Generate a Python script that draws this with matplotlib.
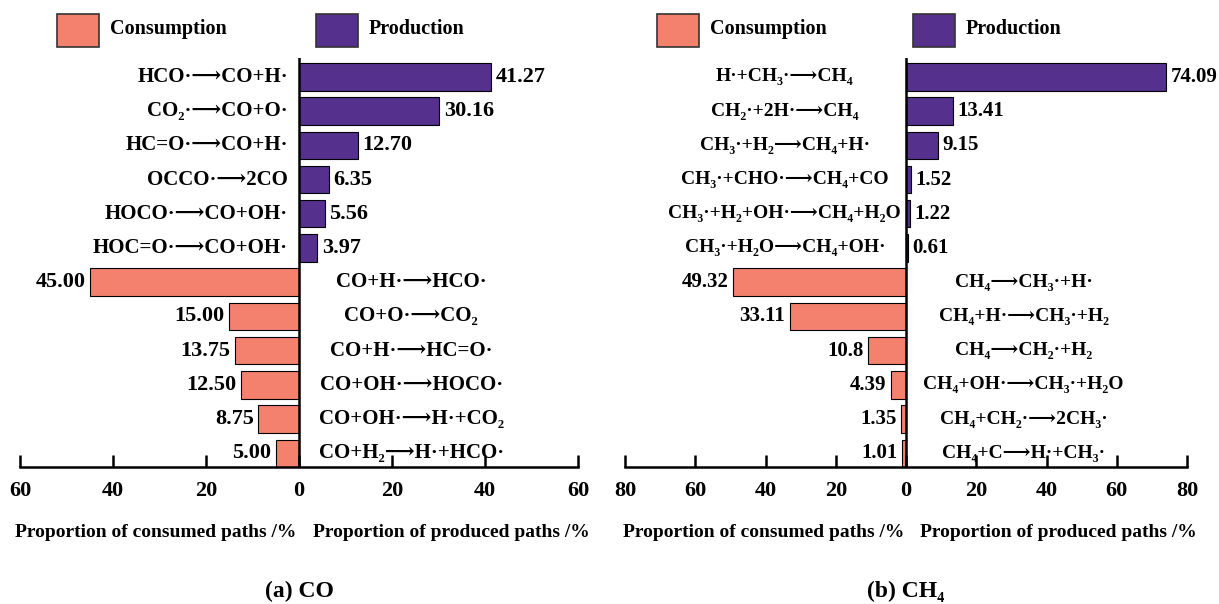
import numpy as np
import matplotlib
matplotlib.use("Agg")
import matplotlib.pyplot as plt
from matplotlib.patches import Rectangle

plt.rcParams['font.family'] = ['Liberation Serif', 'DejaVu Serif', 'DejaVu Sans']
plt.rcParams['font.weight'] = 'bold'

# CO panel data
co_prod_labels = ['HCO·⟶CO+H·', 'CO₂·⟶CO+O·', 'HC=O·⟶CO+H·', 'OCCO·⟶2CO',
                  'HOCO·⟶CO+OH·', 'HOC=O·⟶CO+OH·']
co_prod_vals = [41.27, 30.16, 12.70, 6.35, 5.56, 3.97]
co_cons_labels = ['CO+H·⟶HCO·', 'CO+O·⟶CO₂', 'CO+H·⟶HC=O·', 'CO+OH·⟶HOCO·',
                  'CO+OH·⟶H·+CO₂', 'CO+H₂⟶H·+HCO·']
co_cons_vals = [45.00, 15.00, 13.75, 12.50, 8.75, 5.00]

# CH4 panel data
ch4_prod_labels = ['H·+CH₃·⟶CH₄', 'CH₂·+2H·⟶CH₄', 'CH₃·+H₂⟶CH₄+H·',
                   'CH₃·+CHO·⟶CH₄+CO', 'CH₃·+H₂+OH·⟶CH₄+H₂O', 'CH₃·+H₂O⟶CH₄+OH·']
ch4_prod_vals = [74.09, 13.41, 9.15, 1.52, 1.22, 0.61]
ch4_cons_labels = ['CH₄⟶CH₃·+H·', 'CH₄+H·⟶CH₃·+H₂', 'CH₄⟶CH₂·+H₂',
                   'CH₄+OH·⟶CH₃·+H₂O', 'CH₄+CH₂·⟶2CH₃·', 'CH₄+C⟶H·+CH₃·']
ch4_cons_vals = [49.32, 33.11, 10.8, 4.39, 1.35, 1.01]
ch4_cons_text = ['49.32', '33.11', '10.8', '4.39', '1.35', '1.01']

cons_color = '#F4806E'
prod_color = '#55308D'

W, H = 1219, 604
fig = plt.figure(figsize=(W / 100, H / 100), dpi=100)


def fx(px):
    return px / W


def fy(py):
    return 1 - py / H


def panel(ax, lim, step, prod_labels, prod_vals, cons_labels, cons_vals, cons_text,
          prod_lab_x, prod_ha, cons_lab_x, fs, caption):
    n = len(prod_vals)
    y_prod = np.arange(n)
    y_cons = np.arange(n, 2 * n)
    ax.barh(y_prod, prod_vals, height=0.8, color=prod_color, edgecolor='black', linewidth=0.8)
    ax.barh(y_cons, [-v for v in cons_vals], height=0.8, color=cons_color,
            edgecolor='black', linewidth=0.8)
    off = lim * 0.016
    for y, v, lab in zip(y_prod, prod_vals, prod_labels):
        ax.text(v + off, y, '%.2f' % v, ha='left', va='center', fontsize=fs + 1, fontweight='bold')
        ax.text(prod_lab_x, y, lab, ha=prod_ha, va='center', fontsize=fs, fontweight='bold')
    for y, v, t, lab in zip(y_cons, cons_vals, cons_text, cons_labels):
        ax.text(-v - off, y, t, ha='right', va='center', fontsize=fs + 1, fontweight='bold')
        ax.text(cons_lab_x, y, lab, ha='center', va='center', fontsize=fs, fontweight='bold')
    ax.set_xlim(-lim, lim)
    ax.set_ylim(2 * n - 0.6, -0.55)
    ax.axvline(0, color='black', linewidth=1.8)
    for s in ['left', 'right', 'top']:
        ax.spines[s].set_visible(False)
    ax.spines['bottom'].set_linewidth(1.8)
    ticks = np.arange(-lim, lim + 1, step)
    ax.set_xticks(ticks)
    ax.set_xticklabels(['%d' % abs(t) for t in ticks], fontsize=16, fontweight='bold')
    ax.tick_params(axis='x', direction='in', length=9, width=1.8, pad=10)
    ax.set_yticks([])
    ax.text(-0.5, -0.16, 'Proportion of consumed paths /%', transform=ax.get_xaxis_transform(),
            ha='right', va='center', fontsize=14, fontweight='bold')
    ax.text(lim * 0.05, -0.16, 'Proportion of produced paths /%', transform=ax.get_xaxis_transform(),
            ha='left', va='center', fontsize=14, fontweight='bold')
    ax.text(0, -0.305, caption, transform=ax.get_xaxis_transform(),
            ha='center', va='center', fontsize=17, fontweight='bold')


ax1 = fig.add_axes([fx(20), fy(467), fx(578) - fx(20), fy(58) - fy(467)])
panel(ax1, 60, 20, co_prod_labels, co_prod_vals, co_cons_labels, co_cons_vals,
      ['%.2f' % v for v in co_cons_vals], -2.4, 'right', 24.1, 15, '(a) CO')

ax2 = fig.add_axes([fx(625), fy(467), fx(1187) - fx(625), fy(58) - fy(467)])
panel(ax2, 80, 20, ch4_prod_labels, ch4_prod_vals, ch4_cons_labels, ch4_cons_vals,
      ch4_cons_text, -34.5, 'center', 33.5, 14, '(b) CH₄')

# legend boxes
for px, col, lab in [(57, cons_color, 'Consumption'), (316, prod_color, 'Production'),
                     (657, cons_color, 'Consumption'), (913, prod_color, 'Production')]:
    fig.add_artist(Rectangle((fx(px), fy(47)), fx(42), fy(14) - fy(47), transform=fig.transFigure,
                             facecolor=col, edgecolor='#333333', linewidth=1.2))
    fig.text(fx(px + 53), fy(29), lab, ha='left', va='center', fontsize=14.5, fontweight='bold')

fig.savefig('out.png', dpi=100)
